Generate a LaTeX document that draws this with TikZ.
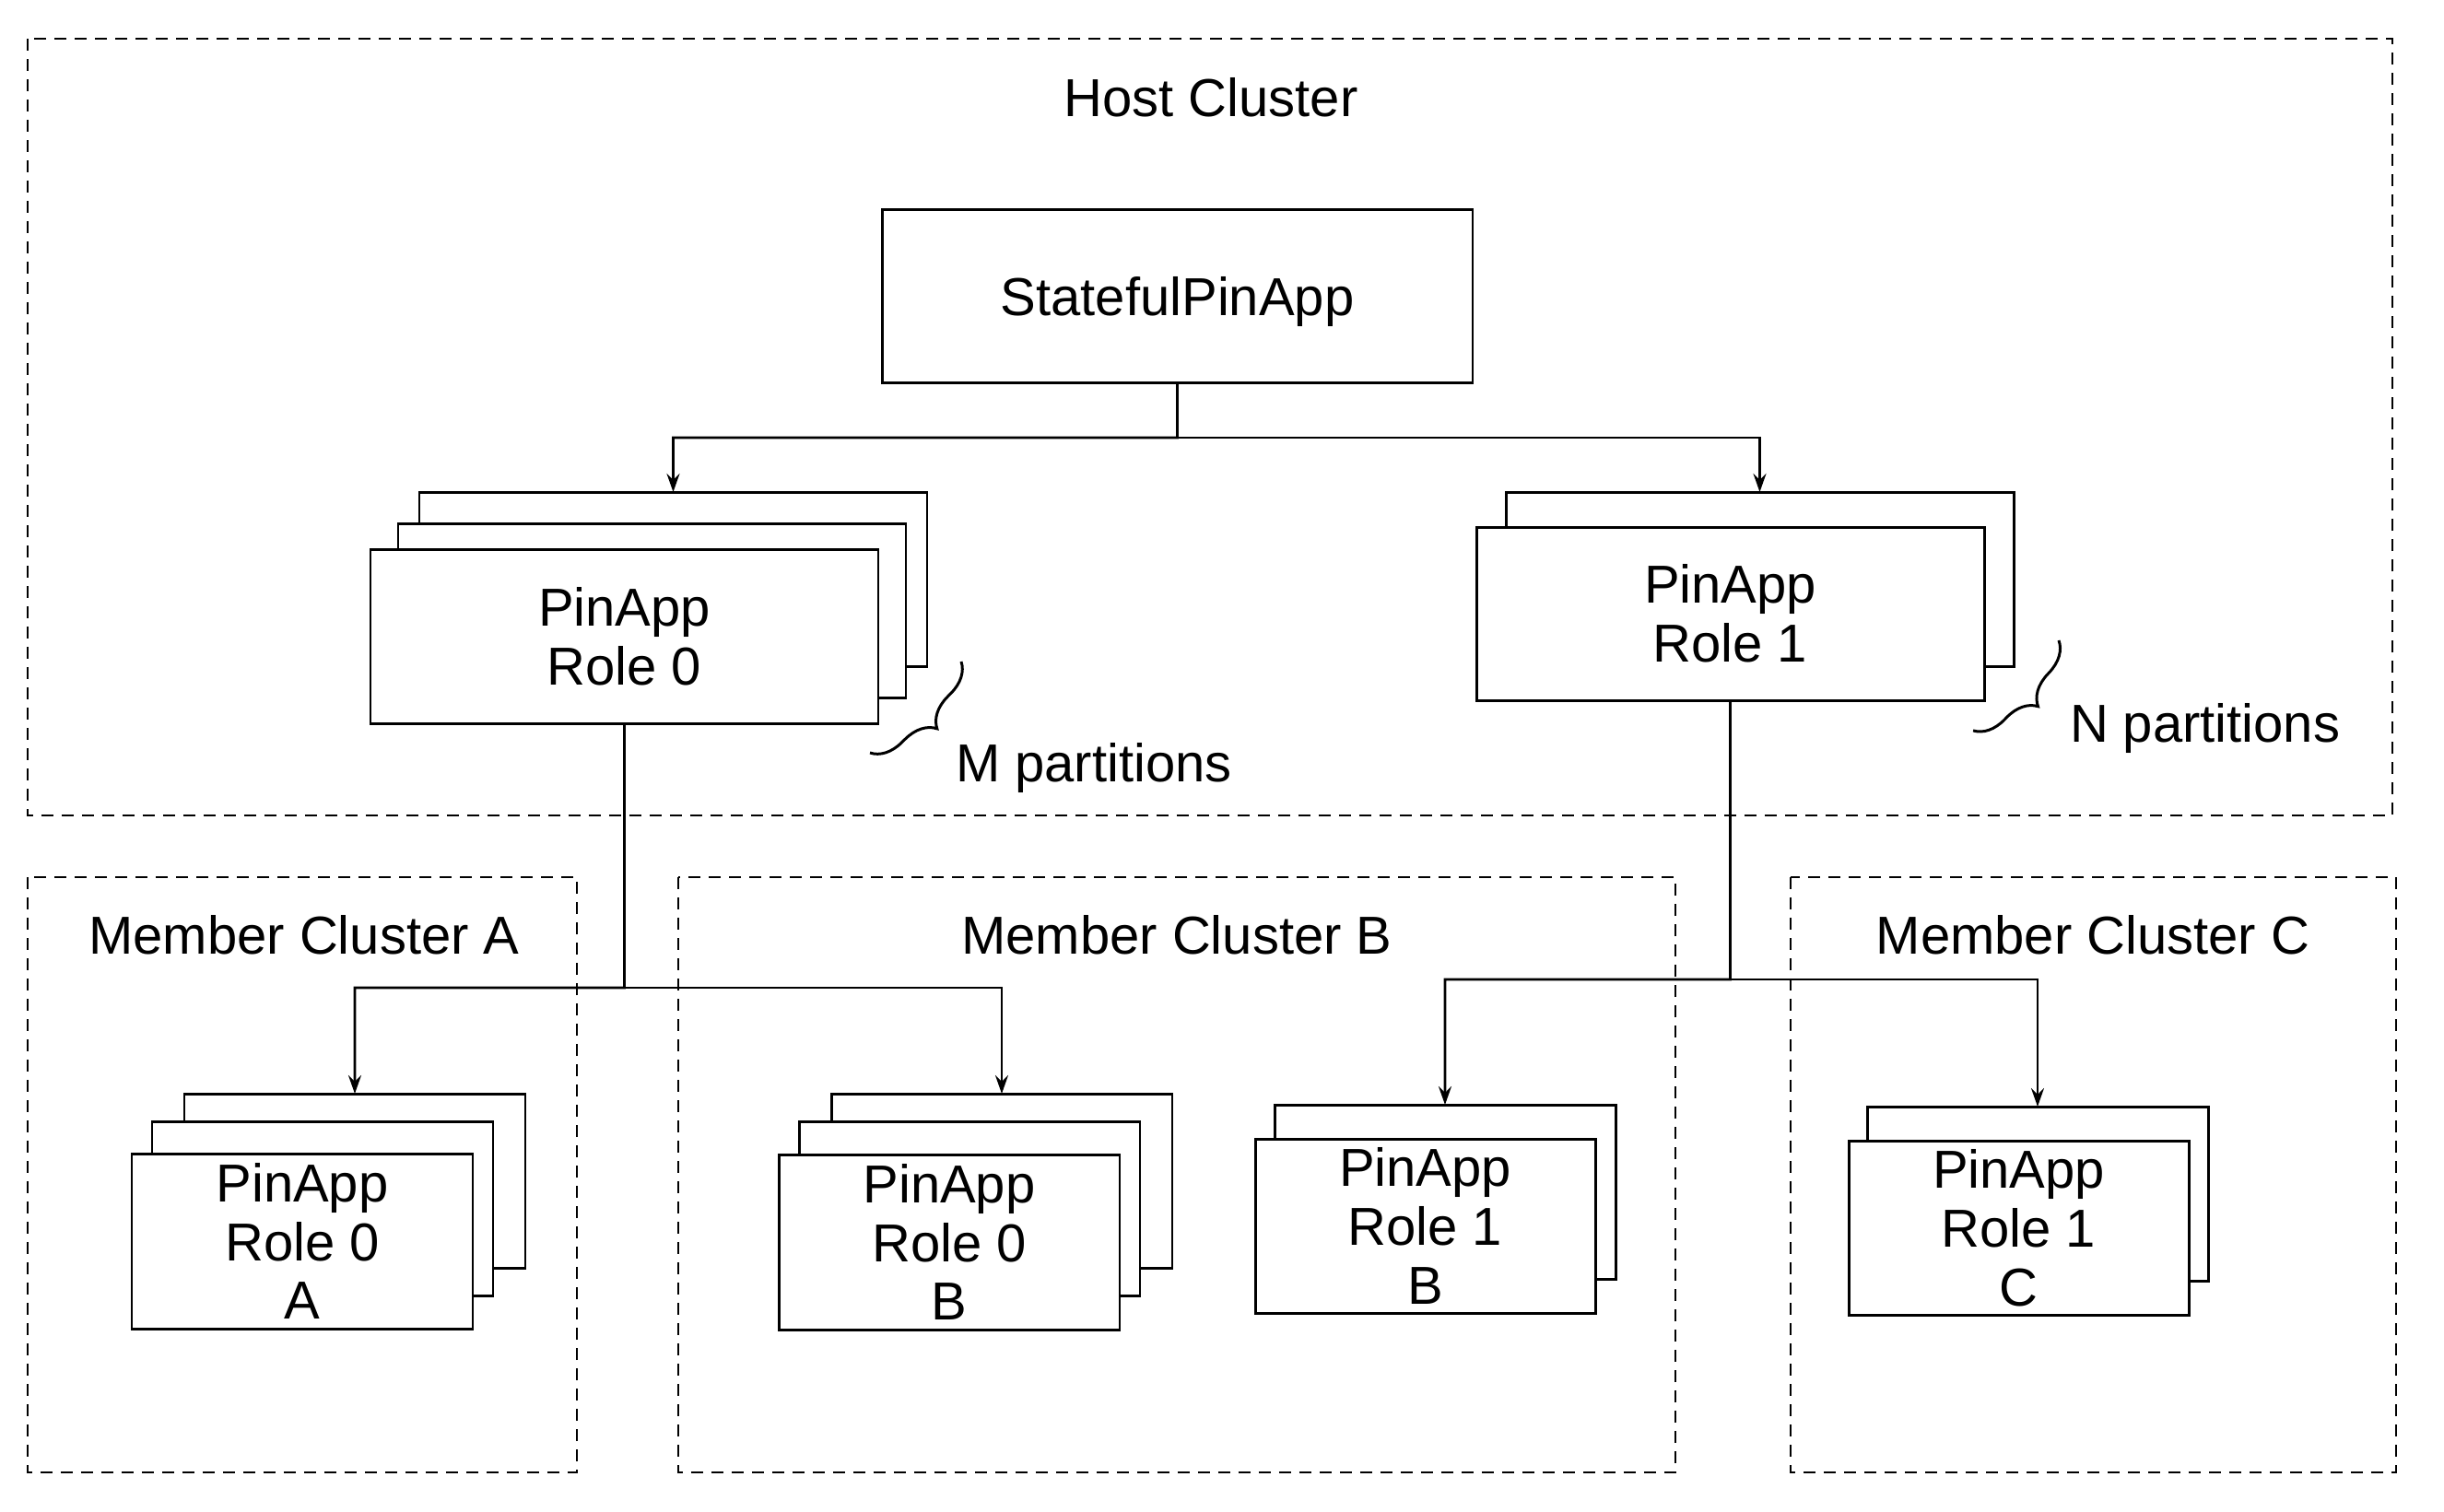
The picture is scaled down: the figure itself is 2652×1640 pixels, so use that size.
\documentclass[tikz,border=0pt]{standalone}
\usepackage{fontspec}
\setmainfont{Liberation Sans}
\usetikzlibrary{arrows.meta,decorations.pathreplacing}
\begin{document}
\begin{tikzpicture}[x=0.1mm,y=-0.1mm,
  every node/.style={font=\fontsize{16.5pt}{18.2pt}\selectfont},
  lbl/.style={inner sep=0pt, outer sep=0pt},
  cluster/.style={draw, dash pattern=on 1.3mm off 0.9mm, line width=0.8pt},
  card/.style={draw, fill=white, line width=0.85pt, inner sep=0pt, outer sep=0pt, anchor=north west, align=center},
  link/.style={line width=0.75pt},
  arr/.style={link, -{Stealth[length=2mm,width=1.4mm,inset=0.7mm]}},
  brc/.style={decorate, decoration={brace, amplitude=3.3mm}, line width=0.85pt}]

\useasboundingbox (0,0) rectangle (2652,1640);

% clusters
\draw[cluster] (30,42) rectangle (2596,885);
\node[lbl, anchor=base] (hosttitle) at (1314,126) {Host Cluster};
\draw[cluster] (30,952) rectangle (626,1598);
\draw[cluster] (736,952) rectangle (1818,1598);
\draw[cluster] (1943,952) rectangle (2600,1598);
\node[lbl, anchor=base] (titleA) at (330,1035) {Member Cluster A};
\node[lbl, anchor=base] (titleB) at (1277,1035) {Member Cluster B};
\node[lbl, anchor=base] (titleC) at (2271,1035) {Member Cluster C};

% host
\node[card, minimum width=64.1mm, minimum height=18.8mm, text depth=0pt] (spa) at (957,227) {StatefulPinApp};

\node[card, minimum width=55.1mm, minimum height=18.9mm] (r0back) at (455,534) {};
\node[card, minimum width=55.1mm, minimum height=18.9mm] (r0mid) at (432,568) {};
\node[card, minimum width=55.1mm, minimum height=18.9mm] (r0) at (402,596) {PinApp\\Role 0};

\node[card, minimum width=55.1mm, minimum height=18.9mm] (r1back) at (1634,534) {};
\node[card, minimum width=55.1mm, minimum height=18.8mm] (r1) at (1602,572) {PinApp\\Role 1};

% members
\node[card, minimum width=37mm, minimum height=18.9mm] (a0back) at (200,1187) {};
\node[card, minimum width=37mm, minimum height=18.9mm] (a0mid) at (165,1217) {};
\node[card, minimum width=37mm, minimum height=19mm] (a0) at (143,1252) {PinApp\\Role 0\\A};

\node[card, minimum width=37mm, minimum height=18.9mm] (b0back) at (902,1187) {};
\node[card, minimum width=37mm, minimum height=18.9mm] (b0mid) at (867,1217) {};
\node[card, minimum width=37mm, minimum height=19mm] (b0) at (845,1253) {PinApp\\Role 0\\B};

\node[card, minimum width=37mm, minimum height=18.9mm] (b1back) at (1383,1199) {};
\node[card, minimum width=36.9mm, minimum height=18.9mm] (b1) at (1362,1236) {PinApp\\Role 1\\B};

\node[card, minimum width=37mm, minimum height=18.9mm] (c1back) at (2026,1201) {};
\node[card, minimum width=36.9mm, minimum height=18.9mm] (c1) at (2006,1238) {PinApp\\Role 1\\C};

% connectors
\coordinate (j1) at (1277.5,475);
\draw[arr] (spa.south) -- (j1) -| (r0back.north);
\draw[arr] (j1) -| (r1back.north);

\coordinate (j2) at (677.5,1072);
\draw[arr] (r0.south) -- (j2) -| (a0back.north);
\draw[arr] (j2) -| (b0back.north);

\coordinate (j3) at (1877.5,1063);
\draw[arr] (r1.south) -- (j3) -| (b1back.north);
\draw[arr] (j3) -| (c1back.north);

% braces
\coordinate (mb1) at (1043,718);
\coordinate (mb2) at (944,817);
\draw[brc] (mb1) -- (mb2);
\node[lbl, anchor=base west] (mlab) at (1037,848) {M partitions};

\coordinate (nb1) at (2234,695);
\coordinate (nb2) at (2141,793);
\draw[brc] (nb1) -- (nb2);
\node[lbl, anchor=base west] (nlab) at (2246,805) {N partitions};
\end{tikzpicture}
\end{document}
